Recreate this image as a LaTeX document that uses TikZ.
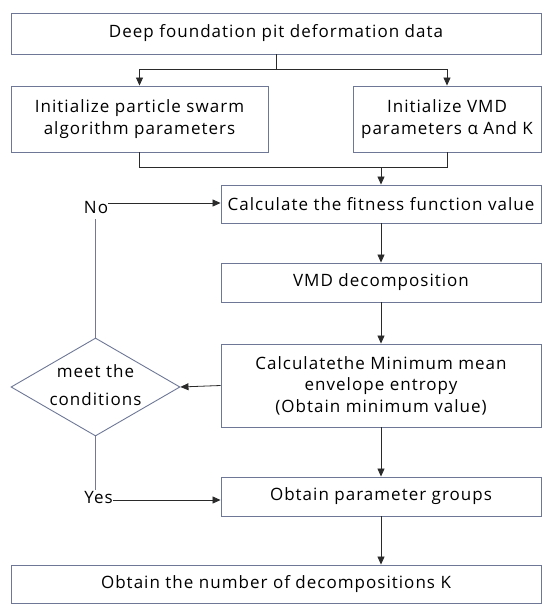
\documentclass[tikz,border=0pt]{standalone}
\usepackage{fontspec}
\setmainfont[LetterSpace=6]{Open Sans}
\usetikzlibrary{arrows.meta,shapes.geometric}
\definecolor{boxline}{HTML}{6E7896}
\definecolor{conn}{HTML}{2A2A2A}
\begin{document}
\begin{tikzpicture}[x=1pt,y=-1pt,
  every node/.style={font=\fontsize{17}{21.5}\selectfont, inner sep=0pt},
  box/.style={draw=boxline, line width=0.9pt, rectangle, align=center},
  arr/.style={draw=conn, line width=0.8pt, -{Triangle[length=8pt,width=7pt]}},
  ln/.style={draw=conn, line width=0.8pt},
  gln/.style={draw=boxline!80!gray, line width=0.9pt}]
\useasboundingbox (0,0) rectangle (550,610);
\node[box, minimum width=530pt, minimum height=41pt] (data) at (276,33.5) {Deep foundation pit deformation data};
\node[box, minimum width=257pt, minimum height=66pt] (pso) at (139.5,119) {Initialize particle swarm\\algorithm parameters};
\node[box, minimum width=188pt, minimum height=66pt] (vmdp) at (447,119) {Initialize VMD\\parameters α And K};
\node[box, minimum width=320pt, minimum height=38pt] (fit) at (381,204) {Calculate the fitness function value};
\node[box, minimum width=320pt, minimum height=39pt] (dec) at (381,282.5) {VMD decomposition};
\node[box, minimum width=320pt, minimum height=83pt] (ent) at (381,385.5) {Calculatethe Minimum mean\\envelope entropy\\(Obtain minimum value)};
\node[draw=boxline, line width=0.9pt, diamond, minimum width=169pt, minimum height=98pt, inner sep=0pt] (cond) at (95.5,387) {};
\node[align=center, font=\fontsize{17}{28}\selectfont] at (95.5,385) {meet the\\conditions};
\node[box, minimum width=320pt, minimum height=39pt] (grp) at (381,496.5) {Obtain parameter groups};
\node[box, minimum width=530pt, minimum height=38pt] (num) at (276,584) {Obtain the number of decompositions K};
\node (no) at (96,208) {No};
\node (yes) at (98.5,498) {Yes};
\coordinate (split) at (276,69);
\coordinate (join) at (381,167);
\coordinate (noout) at ([yshift=5pt]no.east);
\coordinate (yesout) at ([yshift=-2pt]yes.east);
\draw[ln] (data.south) -- (split);
\draw[arr] (split) -| (pso.north);
\draw[arr] (split) -| (vmdp.north);
\draw[ln] (pso.south) |- (join);
\draw[ln] (vmdp.south) |- (join);
\draw[arr] (join) -- (fit.north);
\draw[arr] (fit) -- (dec);
\draw[arr] (dec) -- (ent);
\draw[arr] (ent.west) -- (cond.east);
\draw[gln] (cond.north) -- ([yshift=-5pt]no.south -| cond.north);
\draw[arr] (noout) -- (noout -| fit.west);
\draw[gln] (cond.south) -- ([yshift=2pt]yes.north -| cond.south);
\draw[arr] (yesout) -- (yesout -| grp.west);
\draw[arr] (ent) -- (grp);
\draw[arr] (grp) -- (num.north -| grp.south);
\end{tikzpicture}
\end{document}
